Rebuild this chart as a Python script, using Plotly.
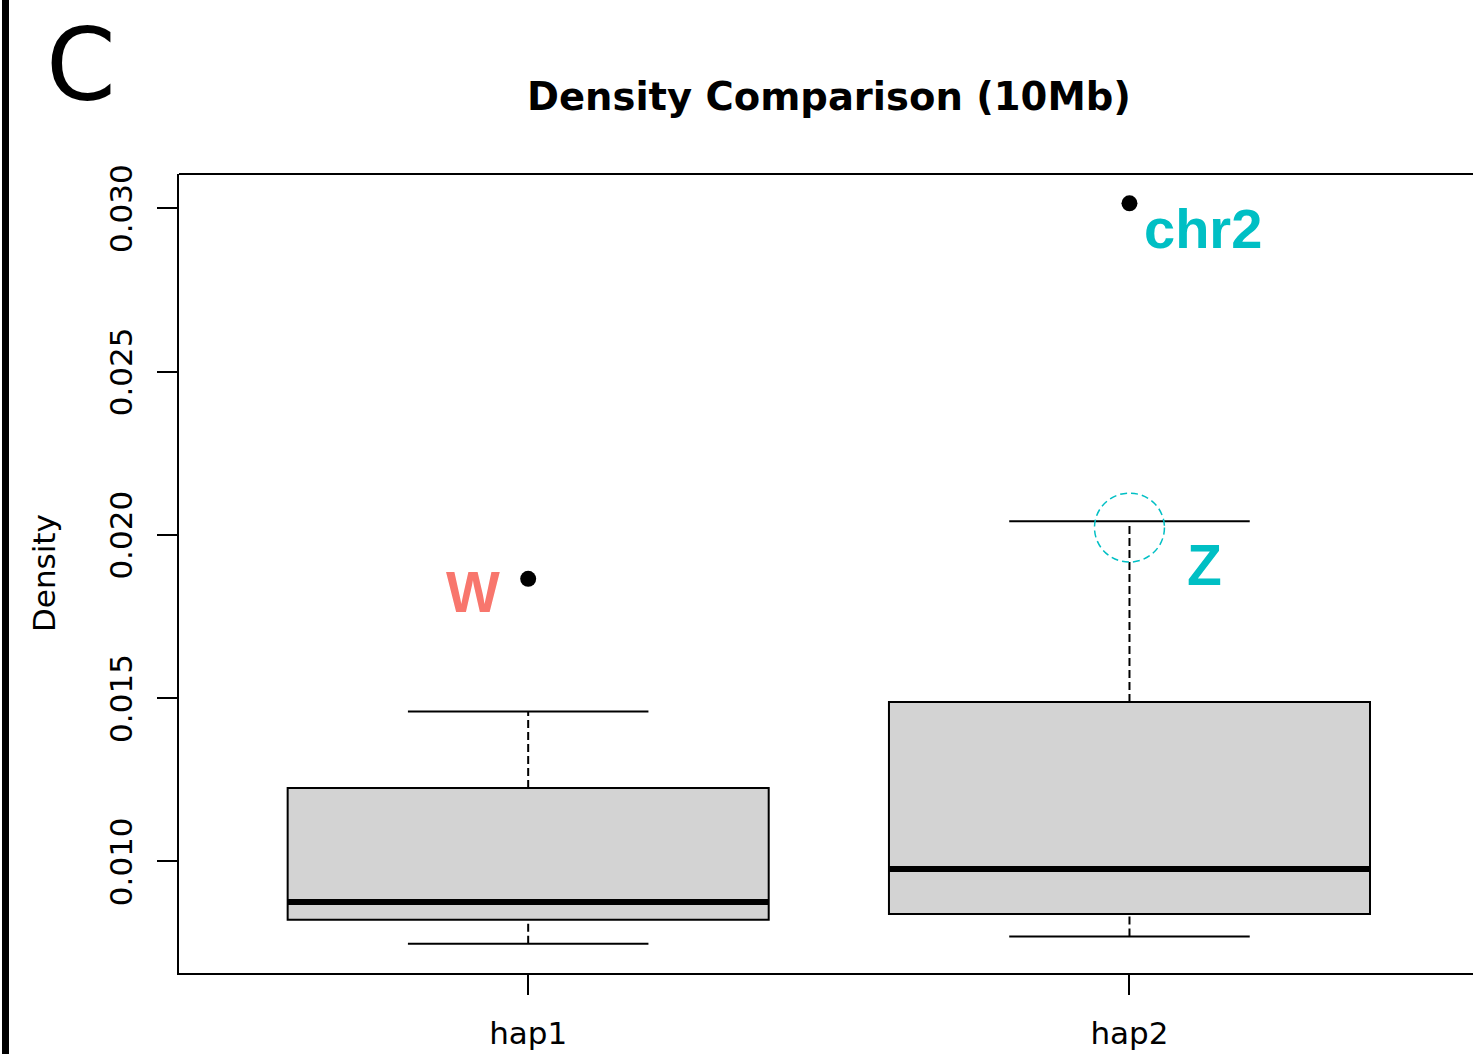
import plotly.graph_objects as go

# Five-number summaries of per-window density (10 Mb windows)
categories = ["hap1", "hap2"]
positions = [1, 2]
q1 = [0.008216, 0.008390]
median = [0.008757, 0.009767]
q3 = [0.012247, 0.014879]
whisker_low = [0.007481, 0.007704]
whisker_high = [0.014591, 0.020419]
outlier_x = [1, 2]
outlier_y = [0.018653, 0.030153]

y_ticks = [0.010, 0.015, 0.020, 0.025, 0.030]
y_tick_text = ["0.010", "0.015", "0.020", "0.025", "0.030"]

W, H = 1473, 1054
ML, MR, MT, MB = 179, 0, 174, 81
PW, PH = W - ML - MR, H - MT - MB


def px(x):
    return (x - ML) / PW


def py(y):
    return (H - MB - y) / PH


BOX_HALF = 0.4
CAP_HALF = 0.2
FONT = "DejaVu Sans"
CYAN = "#00BFC4"
SALMON = "#F8766D"

fig = go.Figure()

shapes = []
for i, x in enumerate(positions):
    # dashed whiskers
    for a, b in ((q3[i], whisker_high[i]), (whisker_low[i], q1[i])):
        shapes.append(dict(type="line", xref="x", yref="y", x0=x, x1=x, y0=a, y1=b,
                           line=dict(color="black", width=2, dash="8px,4px")))
    # whisker caps
    for v in (whisker_low[i], whisker_high[i]):
        shapes.append(dict(type="line", xref="x", yref="y", x0=x - CAP_HALF, x1=x + CAP_HALF,
                           y0=v, y1=v, line=dict(color="black", width=2)))
    # box
    shapes.append(dict(type="rect", xref="x", yref="y", x0=x - BOX_HALF, x1=x + BOX_HALF,
                       y0=q1[i], y1=q3[i], fillcolor="#D3D3D3",
                       line=dict(color="black", width=2)))
    # median
    shapes.append(dict(type="line", xref="x", yref="y", x0=x - BOX_HALF, x1=x + BOX_HALF,
                       y0=median[i], y1=median[i], line=dict(color="black", width=6)))

# top border of the plotting frame
shapes.append(dict(type="line", xref="paper", yref="paper", x0=0, x1=1, y0=1, y1=1,
                   line=dict(color="black", width=2)))
# panel separator bar on the left edge
shapes.append(dict(type="rect", xref="paper", yref="paper", x0=px(2), x1=px(9),
                   y0=py(H + 5), y1=py(-5), fillcolor="black", line=dict(width=0)))
# dashed ring around the hap2 upper whisker
ring_cx, ring_cy = 2, 0.020223
ring_rx, ring_ry = 35 / 601.6, 34.5 / 32670
shapes.append(dict(type="circle", xref="x", yref="y",
                   x0=ring_cx - ring_rx, x1=ring_cx + ring_rx,
                   y0=ring_cy - ring_ry, y1=ring_cy + ring_ry,
                   line=dict(color=CYAN, width=1.5, dash="7px,4px")))

fig.add_trace(go.Scatter(x=outlier_x, y=outlier_y, mode="markers",
                         marker=dict(color="black", size=16, line=dict(width=0)),
                         showlegend=False, hoverinfo="skip"))

annotations = [
    dict(text="<b>Density Comparison (10Mb)</b>", xref="paper", yref="paper",
         x=px(828.5), y=py(97), xanchor="center", yanchor="middle", showarrow=False,
         font=dict(family=FONT, size=38.5, color="black")),
    dict(text="C", xref="paper", yref="paper", x=px(81), y=py(66),
         xanchor="center", yanchor="middle", showarrow=False,
         font=dict(family=FONT, size=100, color="black")),
    dict(text="Density", xref="paper", yref="paper", x=px(44), y=py(573),
         xanchor="center", yanchor="middle", textangle=-90, showarrow=False,
         font=dict(family=FONT, size=31, color="black")),
    dict(text="<b>W</b>", xref="paper", yref="paper", x=px(473), y=py(592),
         xanchor="center", yanchor="middle", showarrow=False,
         font=dict(family="Liberation Sans", size=57, color=SALMON)),
    dict(text="<b>chr2</b>", xref="paper", yref="paper", x=px(1202.5), y=py(229),
         xanchor="center", yanchor="middle", showarrow=False,
         font=dict(family="Liberation Sans", size=56, color=CYAN)),
    dict(text="<b>Z</b>", xref="paper", yref="paper", x=px(1204), y=py(564.5),
         xanchor="center", yanchor="middle", showarrow=False,
         font=dict(family="Liberation Sans", size=57, color=CYAN)),
]

fig.update_layout(
    width=W, height=H,
    margin=dict(l=ML, r=MR, t=MT, b=MB, pad=0),
    paper_bgcolor="white", plot_bgcolor="white",
    shapes=shapes, annotations=annotations,
    showlegend=False,
    xaxis=dict(range=[0.4193, 2.5713], tickvals=positions, ticktext=categories,
               showgrid=False, zeroline=False, showline=True, linecolor="black",
               linewidth=2, ticks="outside", ticklen=20, tickwidth=2, tickcolor="black",
               ticklabelstandoff=12,
               tickfont=dict(family=FONT, size=31, color="black")),
    yaxis=dict(range=[0.006584, 0.03105], tickvals=y_ticks, ticktext=y_tick_text,
               showgrid=False, zeroline=False, showline=True, linecolor="black",
               linewidth=2, ticks="outside", ticklen=20, tickwidth=2, tickcolor="black",
               tickangle=-90, ticklabelstandoff=13, ticklabelshift=5,
               tickfont=dict(family=FONT, size=31, color="black")),
)

fig.write_html("out.html")
